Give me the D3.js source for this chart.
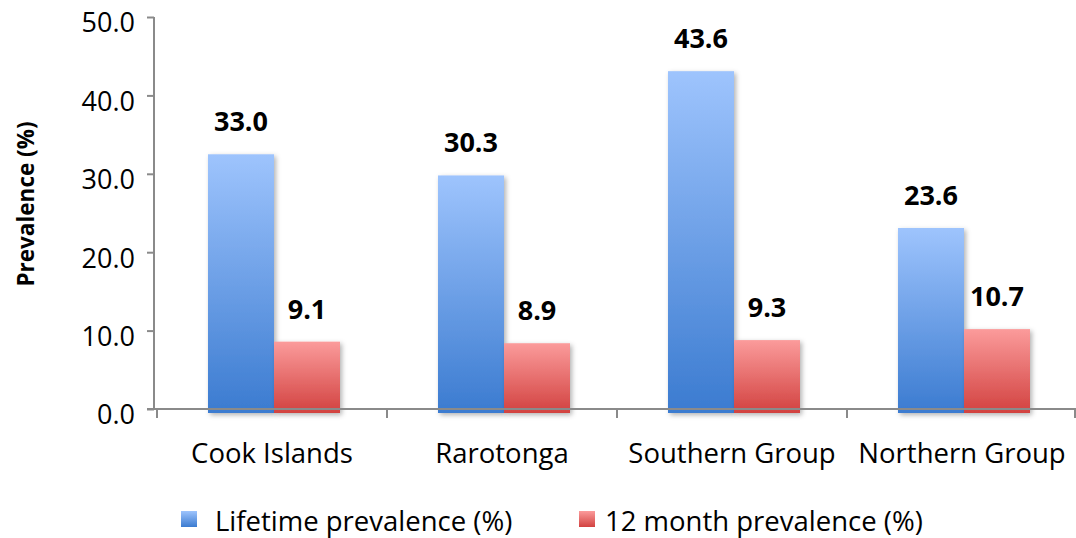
<!DOCTYPE html>
<html>
<head>
<meta charset="utf-8">
<script src="https://cdn.jsdelivr.net/npm/d3@7"></script>
<style>
  html, body { margin: 0; padding: 0; background: #fff; }
  svg { display: block; font-family: "Open Sans", sans-serif; }
</style>
</head>
<body>
<svg id="chart" width="1076" height="538"></svg>
<script>
const categories = ["Cook Islands", "Rarotonga", "Southern Group", "Northern Group"];
const seriesNames = ["Lifetime prevalence (%)", "12 month prevalence (%)"];
const lifetime = [33.0, 30.3, 43.6, 23.6];
const twelveMonth = [9.1, 8.9, 9.3, 10.7];
const yTicks = [0, 10, 20, 30, 40, 50];

const svg = d3.select("#chart");
const defs = svg.append("defs");

const grads = [
  { id: "gBlue", top: "#9ec4fd", bottom: "#3b7bd0" },
  { id: "gRed", top: "#fb9b9b", bottom: "#d24240" }
];
grads.forEach(g => {
  const lg = defs.append("linearGradient").attr("id", g.id)
    .attr("x1", 0).attr("y1", 0).attr("x2", 0).attr("y2", 1);
  lg.append("stop").attr("offset", "0%").attr("stop-color", g.top);
  lg.append("stop").attr("offset", "100%").attr("stop-color", g.bottom);
});
const f = defs.append("filter").attr("id", "shadow")
  .attr("x", "-20%").attr("y", "-20%").attr("width", "150%").attr("height", "150%");
f.append("feDropShadow").attr("dx", 2).attr("dy", 2).attr("stdDeviation", 2.5)
  .attr("flood-color", "#000").attr("flood-opacity", 0.3);

const fills = ["url(#gBlue)", "url(#gRed)"];
const seriesValues = [lifetime, twelveMonth];

// scales
const x = d3.scaleBand().domain(categories).range([157, 1077]).padding(0);
const x1 = d3.scaleBand().domain(seriesNames).range([51, 183]).padding(0);
const yBar = d3.scaleLinear().domain([0, 50]).range([413, 21]);
const yAxisScale = d3.scaleLinear().domain([0, 50]).range([409, 17]);

// bars
const data = [];
categories.forEach((c, i) => {
  seriesNames.forEach((s, j) => {
    data.push({ cat: c, series: s, si: j, value: seriesValues[j][i] });
  });
});

const barG = svg.append("g");
barG.selectAll("rect").data(data).enter().append("rect")
  .attr("x", d => x(d.cat) + x1(d.series))
  .attr("width", x1.bandwidth())
  .attr("y", d => yBar(d.value))
  .attr("height", d => yBar(0) - yBar(d.value))
  .attr("fill", d => fills[d.si])
  .attr("filter", "url(#shadow)");

// value labels
svg.append("g").selectAll("text").data(data).enter().append("text")
  .attr("x", d => x(d.cat) + x1(d.series) + x1.bandwidth() / 2)
  .attr("y", d => yBar(d.value) - 23)
  .attr("text-anchor", "middle")
  .attr("font-weight", "bold")
  .attr("font-size", "27px")
  .attr("fill", "#000")
  .text(d => d.value.toFixed(1));

// y axis
const yAxis = svg.append("g").attr("transform", "translate(154,0)")
  .call(d3.axisLeft(yAxisScale).tickValues(yTicks).tickFormat(d3.format(".1f")).tickSize(7).tickPadding(12));
yAxis.select(".domain").attr("stroke", "#8a8a8a").attr("stroke-width", 2)
  .attr("d", `M0,${yAxisScale(50)}V${yAxisScale(0)}`);
yAxis.selectAll(".tick line").attr("stroke", "#8a8a8a").attr("stroke-width", 2);
yAxis.selectAll(".tick text")
  .attr("font-family", "'Open Sans', sans-serif")
  .attr("font-size", "27px").attr("fill", "#000")
  .attr("dy", "0.55em");

// x axis
const xAxis = svg.append("g").attr("transform", `translate(0,${yAxisScale(0)})`)
  .call(d3.axisBottom(x).tickSize(0).tickPadding(0));
xAxis.select(".domain").attr("stroke", "#8a8a8a").attr("stroke-width", 2)
  .attr("d", `M147,0H1076`);
xAxis.selectAll(".tick text")
  .attr("font-family", "'Open Sans', sans-serif")
  .attr("font-size", "27.5px").attr("fill", "#000")
  .attr("y", 54).attr("dy", 0);
// category boundary ticks
const bounds = categories.map(c => x(c)).concat([x(categories[categories.length - 1]) + x.bandwidth()]);
xAxis.selectAll(".btick").data(bounds).enter().append("line")
  .attr("class", "btick")
  .attr("x1", d => Math.min(d, 1075)).attr("x2", d => Math.min(d, 1075))
  .attr("y1", 0).attr("y2", 9)
  .attr("stroke", "#8a8a8a").attr("stroke-width", 2);

// y title
svg.append("text")
  .attr("transform", "translate(34,204) rotate(-90)")
  .attr("text-anchor", "middle")
  .attr("font-weight", "bold")
  .attr("font-size", "22.5px")
  .attr("fill", "#000")
  .text("Prevalence (%)");

// legend
const legendX = [181, 579];
const leg = svg.append("g");
seriesNames.forEach((s, j) => {
  leg.append("rect").attr("x", legendX[j]).attr("y", 511).attr("width", 16).attr("height", 16)
    .attr("fill", fills[j]);
  leg.append("text").attr("x", legendX[j] + (j === 0 ? 34 : 26)).attr("y", 531)
    .attr("font-size", "27.5px").attr("fill", "#000").text(s);
});
</script>
</body>
</html>
